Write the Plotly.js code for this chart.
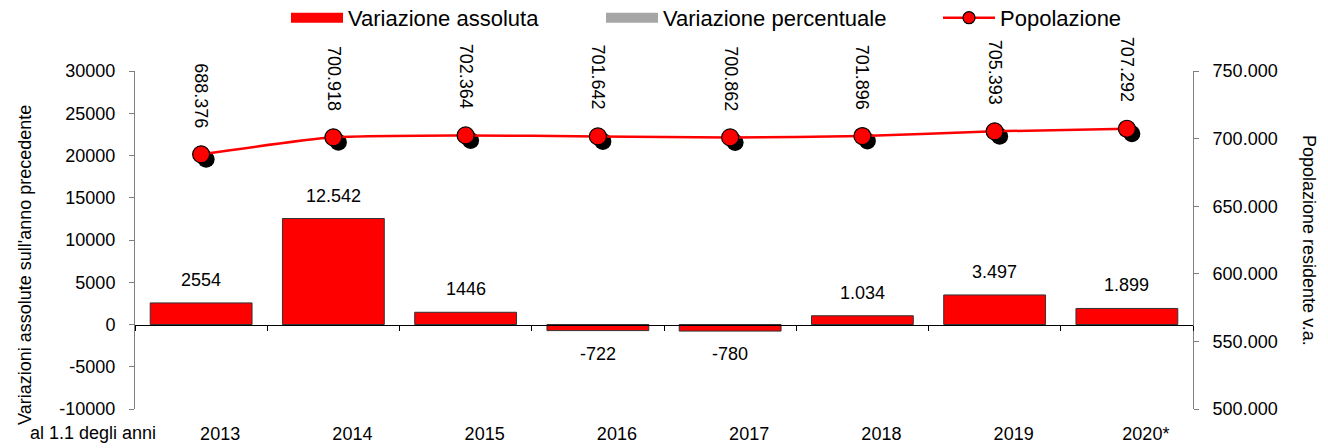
<!DOCTYPE html>
<html>
<head>
<meta charset="utf-8">
<script src="https://cdn.plot.ly/plotly-3.0.1.min.js"></script>
<style>html,body{margin:0;padding:0;background:#fff;}#chart{width:1328px;height:448px;}</style>
</head>
<body>
<div id="chart"></div>
<script>
const categories = ['2013','2014','2015','2016','2017','2018','2019','2020*'];
const variazioneAssoluta = [2554, 12542, 1446, -722, -780, 1034, 3497, 1899];
const variazioneAssolutaLabels = ['2554','12.542','1446','-722','-780','1.034','3.497','1.899'];
const variazionePercentuale = [null, null, null, null, null, null, null, null];
const popolazione = [688376, 700918, 702364, 701642, 700862, 701896, 705393, 707292];
const popolazioneLabels = ['688.376','700.918','702.364','701.642','700.862','701.896','705.393','707.292'];
const leftTicks = [-10000, -5000, 0, 5000, 10000, 15000, 20000, 25000, 30000];
const rightTicks = [500000, 550000, 600000, 650000, 700000, 750000];
const rightTickLabels = ['500.000','550.000','600.000','650.000','700.000','750.000'];

const FONT = 'Liberation Sans, Arial, sans-serif';
const FS = 18;
const plotH = 338, plotW = 1058;
const leftRange = [-10000, 30000];
const rightRange = [500000, 750000];
const shadowPx = 5;
const dyShadow = shadowPx * (rightRange[1] - rightRange[0]) / plotH;
const dxShadow = shadowPx * categories.length / plotW;
const idx = categories.map((c, i) => i);
const txt = {family: FONT, size: FS, color: '#000'};
const legTxt = {family: FONT, size: 22, color: '#000'};

const traces = [
  {
    type: 'bar', name: 'Variazione assoluta', x: categories, y: variazioneAssoluta,
    xaxis: 'x', yaxis: 'y', width: 0.77, showlegend: false,
    marker: {color: '#FF0000', line: {color: '#333333', width: 1}}
  },
  {
    type: 'bar', name: 'Variazione percentuale', x: categories, y: variazionePercentuale,
    xaxis: 'x', yaxis: 'y', showlegend: false,
    marker: {color: '#A6A6A6', line: {color: '#A6A6A6', width: 1}}
  },
  // legend entries (wide rectangles / small marker as in the reference)
  {
    type: 'scatter', mode: 'lines', name: 'Variazione assoluta', x: categories, y: variazionePercentuale,
    xaxis: 'x', yaxis: 'y', line: {color: '#FF0000', width: 11}, legend: 'legend'
  },
  {
    type: 'scatter', mode: 'lines', name: 'Variazione percentuale', x: categories, y: variazionePercentuale,
    xaxis: 'x', yaxis: 'y', line: {color: '#A6A6A6', width: 11}, legend: 'legend2'
  },
  {
    type: 'scatter', mode: 'lines+markers', name: 'Popolazione', x: categories, y: variazionePercentuale,
    xaxis: 'x', yaxis: 'y', legend: 'legend3',
    line: {color: '#FF0000', width: 2.5},
    marker: {color: '#FF0000', size: 12, line: {color: '#000000', width: 1.2}}
  },
  {
    type: 'scatter', mode: 'markers', name: 'ombra', showlegend: false,
    x: categories, y: popolazione, xaxis: 'x2', yaxis: 'y2',
    marker: {color: '#000000', size: 17}, hoverinfo: 'skip'
  },
  {
    type: 'scatter', mode: 'lines+markers', name: 'Popolazione', showlegend: false,
    x: categories, y: popolazione, xaxis: 'x3', yaxis: 'y3',
    line: {color: '#FF0000', width: 2.5, shape: 'spline', smoothing: 0.6},
    marker: {color: '#FF0000', size: 17, line: {color: '#000000', width: 1.2}}
  }
];

const annotations = [];
idx.forEach(i => {
  const v = variazioneAssoluta[i];
  annotations.push({
    xref: 'x', yref: 'y', x: i, y: v, text: variazioneAssolutaLabels[i],
    showarrow: false, yshift: v >= 0 ? 23 : -23, xanchor: 'center', yanchor: 'middle', font: txt
  });
  annotations.push({
    xref: 'x3', yref: 'y3', x: i, y: popolazione[i], text: popolazioneLabels[i],
    showarrow: false, textangle: 90, yshift: 59, xanchor: 'center', yanchor: 'middle', font: txt
  });
});
annotations.push({
  xref: 'paper', yref: 'paper', x: (25 - 135) / plotW, y: (409 - 265) / plotH,
  xanchor: 'center', yanchor: 'middle',
  text: "Variazioni assolute sull'anno precedente", showarrow: false, textangle: -90, font: txt
});
annotations.push({
  xref: 'paper', yref: 'paper', x: (1309 - 135) / plotW, y: (409 - 240) / plotH,
  xanchor: 'center', yanchor: 'middle',
  text: 'Popolazione residente v.a.', showarrow: false, textangle: 90, font: txt
});
annotations.push({
  xref: 'paper', yref: 'paper', x: (93 - 135) / plotW, y: (409 - 433) / plotH,
  xanchor: 'center', yanchor: 'middle',
  text: 'al 1.1 degli anni', showarrow: false, font: txt
});

const legendBase = {
  orientation: 'h', xref: 'container', yref: 'container', xanchor: 'left',
  y: 0.96, yanchor: 'middle', itemwidth: 52, font: legTxt, bgcolor: 'rgba(0,0,0,0)', borderwidth: 0
};

const catRange = [-0.5, categories.length - 0.5];
const layout = {
  width: 1328, height: 448,
  margin: {l: 135, r: 135, t: 71, b: 39, autoexpand: false},
  paper_bgcolor: '#fff', plot_bgcolor: '#fff',
  font: txt,
  barmode: 'overlay',
  showlegend: true,
  legend: Object.assign({}, legendBase, {x: 286 / 1328}),
  legend2: Object.assign({}, legendBase, {x: 601 / 1328}),
  legend3: Object.assign({}, legendBase, {x: 938 / 1328}),
  xaxis: {
    type: 'category', categoryorder: 'array', categoryarray: categories, range: catRange,
    anchor: 'free', position: (0 - leftRange[0]) / (leftRange[1] - leftRange[0]),
    showline: true, linecolor: '#000', linewidth: 1,
    ticks: 'outside', tickson: 'boundaries', ticklen: 5, tickcolor: '#000',
    showticklabels: false, showgrid: false, zeroline: false
  },
  yaxis: {
    range: leftRange, tickvals: leftTicks, ticktext: leftTicks.map(String),
    showline: true, linecolor: '#7f7f7f', linewidth: 1,
    ticks: 'outside', ticklen: 5, tickcolor: '#7f7f7f', ticklabelstandoff: 10,
    showgrid: false, zeroline: false, tickfont: txt
  },
  xaxis2: {
    type: 'category', categoryorder: 'array', categoryarray: categories, overlaying: 'x',
    range: [catRange[0] - dxShadow, catRange[1] - dxShadow],
    visible: false, anchor: 'y2'
  },
  yaxis2: {
    overlaying: 'y', range: [rightRange[0] + dyShadow, rightRange[1] + dyShadow],
    visible: false, anchor: 'x2'
  },
  xaxis3: {
    type: 'category', categoryorder: 'array', categoryarray: categories, overlaying: 'x',
    range: catRange, anchor: 'y3', side: 'bottom',
    showline: false, ticks: '', showgrid: false, zeroline: false,
    ticklabelshift: 19, ticklabelstandoff: 12, tickfont: txt
  },
  yaxis3: {
    overlaying: 'y', side: 'right', anchor: 'x3', range: rightRange,
    tickvals: rightTicks, ticktext: rightTickLabels,
    showline: true, linecolor: '#7f7f7f', linewidth: 1,
    ticks: 'outside', ticklen: 5, tickcolor: '#7f7f7f', ticklabelstandoff: 10,
    showgrid: false, zeroline: false, tickfont: txt
  },
  annotations: annotations
};

Plotly.newPlot('chart', traces, layout, {displayModeBar: false, staticPlot: true});
</script>
</body>
</html>
